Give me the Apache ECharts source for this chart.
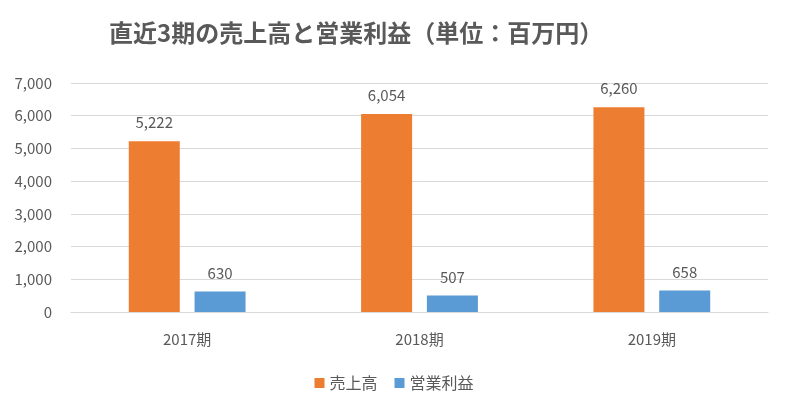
<!DOCTYPE html>
<html>
<head>
<meta charset="utf-8">
<script src="https://cdn.jsdelivr.net/npm/echarts@6/dist/echarts.min.js"></script>
<style>html,body{margin:0;padding:0;background:#fff;}#c{width:788px;height:410px;}</style>
</head>
<body>
<div id="c"></div>
<script>
const categories = ['2017期', '2018期', '2019期'];
const sales = [5222, 6054, 6260];
const profit = [630, 507, 658];
const seriesNames = ['売上高', '営業利益'];
const yTicks = { min: 0, max: 7000, interval: 1000 };

const FONT = '"Noto Sans CJK JP", "Noto Sans", sans-serif';
const TXT = '#595959';
const chart = echarts.init(document.getElementById('c'), null, { renderer: 'canvas' });
const labelCfg = {
  show: true, position: 'top', distance: 11,
  color: TXT, fontSize: 15, fontFamily: FONT,
  formatter: p => p.value.toLocaleString('en-US')
};
chart.setOption({
  animation: false,
  backgroundColor: '#fff',
  title: {
    text: '直近3期の売上高と営業利益（単位：百万円）',
    left: 104, top: 16,
    textStyle: { color: TXT, fontSize: 24, fontWeight: 'bold', fontFamily: FONT }
  },
  legend: {
    data: seriesNames, bottom: 14, left: 'center',
    icon: 'rect', itemWidth: 10, itemHeight: 10, itemGap: 17,
    textStyle: { color: TXT, fontSize: 16, fontFamily: FONT, padding: [0, 0, 0, 0] }
  },
  grid: { left: 71, right: 20, top: 83, bottom: 98, containLabel: false },
  xAxis: {
    type: 'category', data: categories,
    axisLine: { lineStyle: { color: '#D9D9D9' } },
    axisTick: { show: false },
    axisLabel: { color: TXT, fontSize: 15, fontFamily: FONT, margin: 20 }
  },
  yAxis: {
    type: 'value', min: yTicks.min, max: yTicks.max, interval: yTicks.interval,
    axisLine: { show: false }, axisTick: { show: false },
    splitLine: { lineStyle: { color: '#D9D9D9' } },
    axisLabel: { color: TXT, fontSize: 15, fontFamily: FONT, margin: 19,
      formatter: v => v.toLocaleString('en-US') }
  },
  series: [
    { name: seriesNames[0], type: 'bar', data: sales, barWidth: 51, barGap: '29%',
      itemStyle: { color: '#ED7D31' }, label: labelCfg },
    { name: seriesNames[1], type: 'bar', data: profit, barWidth: 51,
      itemStyle: { color: '#5B9BD5' }, label: labelCfg }
  ]
});
</script>
</body>
</html>
